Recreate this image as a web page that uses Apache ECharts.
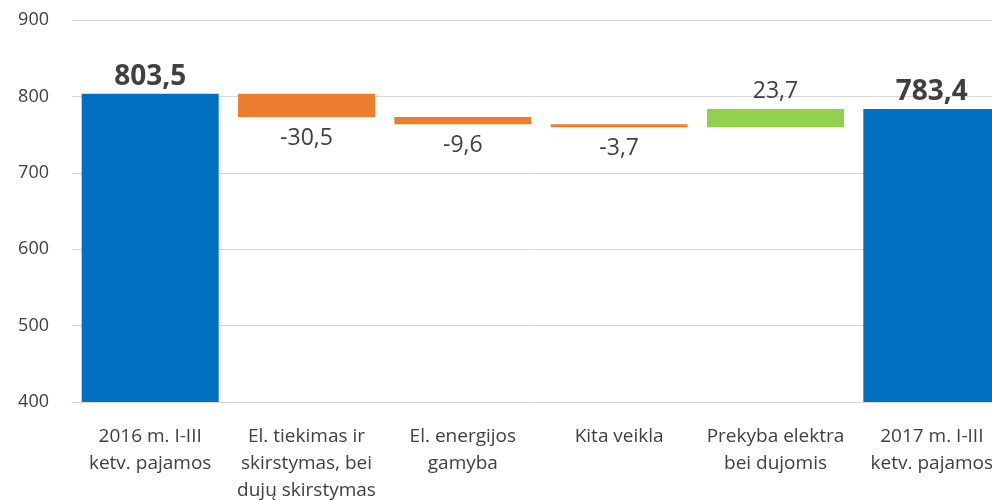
<!DOCTYPE html>
<html>
<head>
<meta charset="utf-8">
<script src="https://cdn.jsdelivr.net/npm/echarts@6/dist/echarts.min.js"></script>
<style>
  html, body { margin: 0; padding: 0; background: #fff; }
  #myChart { width: 992px; height: 500px; }
</style>
</head>
<body>
<div id="myChart"></div>
<script>
// kategorijos ir reikšmės
var categories = [
  "2016 m. I-III\nketv. pajamos",
  "El. tiekimas ir\nskirstymas, bei\ndujų skirstymas",
  "El. energijos\ngamyba",
  "Kita veikla",
  "Prekyba elektra\nbei dujomis",
  "2017 m. I-III\nketv. pajamos"
];
var values = [803.5, -30.5, -9.6, -3.7, 23.7, 783.4];
var isTotal = [true, false, false, false, false, true];
var yTicks = [400, 500, 600, 700, 800, 900];

var textColor = "#404040";
var fontFamily = "'Open Sans', 'Noto Sans', sans-serif";

function fmt(v) {
  return String(v).replace(".", ",");
}

// pagalbinė (nematoma) ir matoma dalis
var baseData = [];
var visData = [];
var running = 0;
for (var i = 0; i < values.length; i++) {
  var v = values[i];
  if (isTotal[i]) {
    running = v;
    baseData.push(0);
    visData.push({
      value: v,
      itemStyle: { color: "#0070C0" },
      label: {
        show: true, position: "top", distance: 3,
        fontSize: 28, fontWeight: "bold", color: textColor,
        formatter: fmt(v)
      }
    });
  } else {
    var start = running;
    running = running + v;
    baseData.push(Math.min(start, running));
    visData.push({
      value: Math.abs(v),
      itemStyle: { color: v < 0 ? "#ED7D31" : "#92D050" },
      label: {
        show: true, position: v < 0 ? "bottom" : "top", distance: v < 0 ? 10 : 6,
        fontSize: 23, color: textColor,
        formatter: fmt(v)
      }
    });
  }
}

var myChart = echarts.init(document.getElementById("myChart"));
var option = {
  animation: false,
  textStyle: { fontFamily: fontFamily },
  grid: { left: 72, top: 20, bottom: 98, width: 938, outerBoundsMode: "none", containLabel: false },
  xAxis: {
    type: "category",
    data: categories,
    axisLine: { lineStyle: { color: "#d9d9d9", width: 1 } },
    axisTick: { show: false },
    axisLabel: {
      interval: 0, margin: 21, fontSize: 19, lineHeight: 27,
      color: textColor, fontFamily: fontFamily
    }
  },
  yAxis: {
    type: "value",
    min: yTicks[0],
    max: yTicks[yTicks.length - 1],
    interval: 100,
    axisLine: { show: false },
    axisTick: { show: false },
    splitLine: { lineStyle: { color: "#d9d9d9", width: 1 } },
    axisLabel: { fontSize: 18, color: textColor, margin: 23, fontFamily: fontFamily }
  },
  series: [
    {
      name: "base",
      type: "bar",
      stack: "total",
      barWidth: 137,
      itemStyle: { color: "rgba(0,0,0,0)" },
      silent: true,
      data: baseData
    },
    {
      name: "value",
      type: "bar",
      stack: "total",
      barWidth: 137,
      data: visData
    }
  ]
};
myChart.setOption(option);
</script>
</body>
</html>
